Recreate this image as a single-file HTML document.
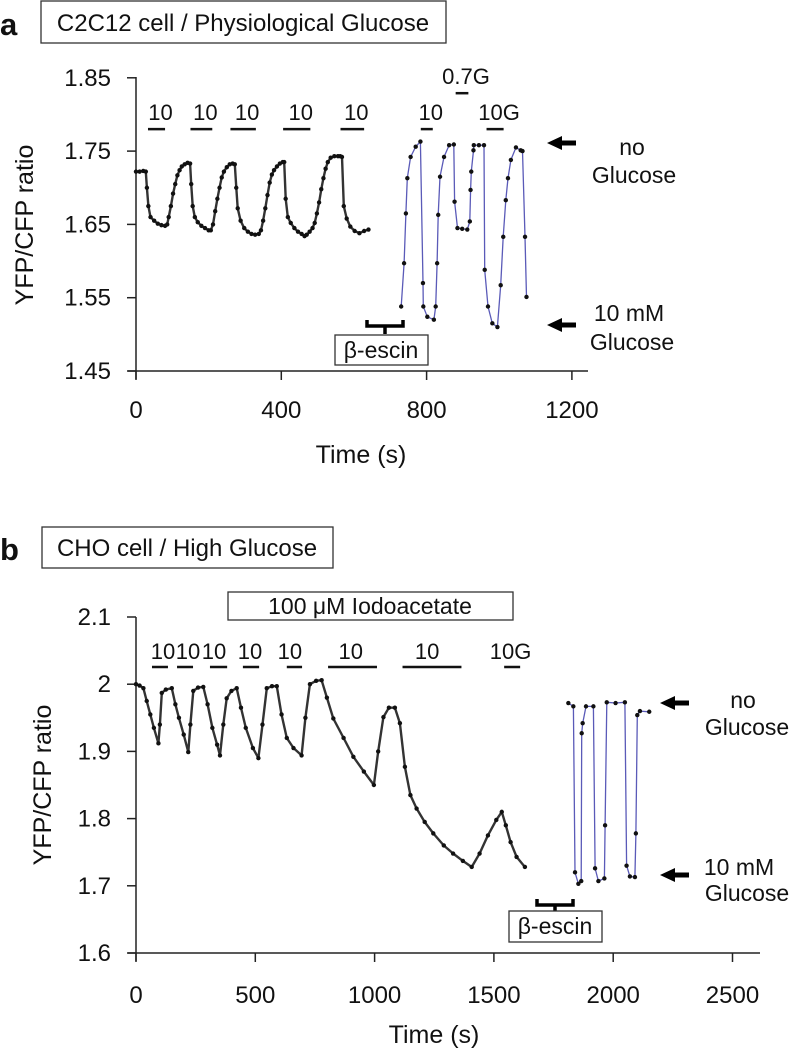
<!DOCTYPE html>
<html><head><meta charset="utf-8">
<style>
html,body{margin:0;padding:0;background:#fff;}
svg{display:block;font-family:"Liberation Sans",Arial,sans-serif;}
</style></head>
<body>
<svg id="fig" width="792" height="1050" viewBox="0 0 792 1050" xmlns="http://www.w3.org/2000/svg">
  <g id="pa"></g>
  <g id="pb"></g>
</svg>
<script>
// ---------- Panel A data ----------
const aTicksX = [0, 400, 800, 1200];
const aTicksY = [1.45, 1.55, 1.65, 1.75, 1.85];
const aTicksYLabels = ["1.45", "1.55", "1.65", "1.75", "1.85"];
const aPreT = [0,10,20,27,30,34,40,50,60,70,80,86,90,96,102,108,114,120,126,134,142,149,152,156,162,170,180,190,200,206,212,218,224,230,236,242,250,258,266,272,276,280,288,298,308,318,328,338,344,350,356,362,368,374,380,388,396,404,408,412,418,426,436,446,456,464,470,478,486,492,498,504,510,516,522,528,536,546,556,562,567,572,580,590,602,615,628,640];
const aPreV = [1.722,1.722,1.723,1.722,1.70,1.675,1.66,1.655,1.651,1.649,1.648,1.65,1.66,1.675,1.692,1.705,1.717,1.724,1.729,1.732,1.734,1.733,1.705,1.675,1.66,1.653,1.648,1.645,1.642,1.642,1.65,1.668,1.685,1.70,1.714,1.722,1.728,1.732,1.733,1.732,1.70,1.672,1.655,1.645,1.64,1.637,1.636,1.637,1.642,1.655,1.672,1.69,1.707,1.718,1.724,1.729,1.733,1.735,1.735,1.685,1.66,1.652,1.645,1.64,1.637,1.634,1.636,1.64,1.645,1.652,1.665,1.68,1.698,1.713,1.726,1.735,1.741,1.743,1.743,1.743,1.742,1.675,1.658,1.647,1.641,1.638,1.641,1.643];
const aPostT = [730,738,743,747,756,770,783,790,791,802,820,825,829,832,837,848,862,875,877,885,898,912,919,921,923,929,930,944,958,960,969,981,995,1004,1011,1018,1024,1032,1046,1059,1064,1071,1075];
const aPostV = [1.538,1.597,1.665,1.713,1.742,1.756,1.763,1.57,1.538,1.524,1.52,1.538,1.597,1.663,1.715,1.742,1.758,1.759,1.681,1.645,1.644,1.643,1.654,1.697,1.722,1.751,1.758,1.758,1.758,1.588,1.538,1.515,1.51,1.567,1.633,1.683,1.713,1.738,1.755,1.751,1.75,1.633,1.551];
const aBarLabels = ["10","10","10","10","10","10","0.7G","10G"];
const aBarStart = [33,150,260,405,563,784,880,965];
const aBarEnd = [80,210,330,480,628,817,915,1012];
const aBarLevel = [1.780,1.780,1.780,1.780,1.780,1.780,1.829,1.780];

// ---------- Panel B data ----------
const bTicksX = [0, 500, 1000, 1500, 2000, 2500];
const bTicksY = [1.6, 1.7, 1.8, 1.9, 2.0, 2.1];
const bTicksYLabels = ["1.6", "1.7", "1.8", "1.9", "2", "2.1"];
const bPreT = [0,15,31,45,60,75,94,100,108,125,150,165,180,200,219,228,240,260,282,300,320,340,352,366,380,400,422,440,460,490,513,530,548,570,590,610,632,660,694,710,729,755,778,800,827,870,911,955,997,1015,1037,1060,1085,1106,1127,1150,1176,1210,1246,1290,1329,1370,1407,1440,1475,1510,1533,1550,1570,1595,1630];
const bPreV = [2.0,1.998,1.994,1.975,1.955,1.935,1.912,1.94,1.987,1.992,1.994,1.97,1.95,1.925,1.899,1.94,1.99,1.995,1.996,1.97,1.935,1.91,1.894,1.94,1.979,1.99,1.994,1.965,1.935,1.905,1.89,1.94,1.994,1.997,1.997,1.955,1.92,1.905,1.894,1.95,2.0,2.005,2.006,1.98,1.949,1.92,1.892,1.87,1.85,1.9,1.951,1.965,1.965,1.942,1.877,1.835,1.815,1.795,1.778,1.76,1.748,1.737,1.728,1.748,1.775,1.798,1.81,1.79,1.765,1.743,1.728];
const bPostT = [1812,1833,1840,1854,1866,1868,1872,1886,1917,1924,1938,1963,1966,1973,2010,2049,2056,2070,2091,2095,2101,2112,2151];
const bPostV = [1.972,1.967,1.72,1.703,1.707,1.927,1.942,1.967,1.967,1.726,1.707,1.711,1.79,1.973,1.972,1.973,1.73,1.714,1.713,1.778,1.954,1.96,1.959];
const bBarLabels = ["10","10","10","10","10","10","10","10G"];
const bLabelT = [113,218,327,478,645,900,1220,1570];
const bBarStart = [67,172,310,448,632,805,1117,1543];
const bBarEnd = [134,239,382,516,696,1010,1364,1610];

const NS = "http://www.w3.org/2000/svg";
function mk(parent, tag, attrs, text) {
  const e = document.createElementNS(NS, tag);
  for (const k in attrs) e.setAttribute(k, attrs[k]);
  if (text !== undefined) e.textContent = text;
  parent.appendChild(e);
  return e;
}

const axA = { x0: 136, pxPerS: 145.3 / 400, y0: 371, vmin: 1.45, pxPerV: 733 };
const axB = { x0: 136, pxPerS: 119.3 / 500, y0: 953, vmin: 1.6, pxPerV: 672 };
function sx(ax, t) { return ax.x0 + t * ax.pxPerS; }
function sy(ax, v) { return ax.y0 - (v - ax.vmin) * ax.pxPerV; }

function drawAxes(g, ax, xTicks, yTicks, yLabels, xEnd, yTop, tickLabelY, titleX, titleY, ylabX, ylabY) {
  const xa = mk(g, "line", {x1: ax.x0 - 8, y1: ax.y0, x2: xEnd, y2: ax.y0, stroke: "#222", "stroke-width": 1.5});
  
  
  const ya = mk(g, "line", {x1: ax.x0, y1: yTop, x2: ax.x0, y2: ax.y0 + 8, stroke: "#222", "stroke-width": 1.5});
  
  
  xTicks.forEach(t => {
    const x = sx(ax, t);
    const tk = mk(g, "line", {x1: x, y1: ax.y0, x2: x, y2: ax.y0 + 9, stroke: "#222", "stroke-width": 1.5});
    
    
    const tl = mk(g, "text", {x: x, y: tickLabelY, "font-size": 24, "text-anchor": "middle", fill: "#111"}, String(t));
    
    
  });
  yTicks.forEach((v, i) => {
    const y = sy(ax, v);
    const tk = mk(g, "line", {x1: ax.x0 - 9, y1: y, x2: ax.x0, y2: y, stroke: "#222", "stroke-width": 1.5});
    
    
    const tl = mk(g, "text", {x: 111, y: y + 8, "font-size": 24, "text-anchor": "end", fill: "#111"}, yLabels[i]);
    
    
  });
  const xt = mk(g, "text", {x: titleX, y: titleY, "font-size": 25, "text-anchor": "middle", fill: "#111"}, "Time (s)");
  
  
  const yt = mk(g, "text", {x: ylabX, y: ylabY, "font-size": 25, "text-anchor": "middle", fill: "#111", transform: "rotate(-90 " + ylabX + " " + ylabY + ")"}, "YFP/CFP ratio");
  
  
}

function drawSeries(g, ax, ts, vs, color, width, name) {
  const pts = ts.map((t, i) => sx(ax, t).toFixed(1) + "," + sy(ax, vs[i]).toFixed(1)).join(" ");
  const pl = mk(g, "polyline", {points: pts, fill: "none", stroke: color, "stroke-width": width, "stroke-linejoin": "round"});
  
  
  ts.forEach((t, i) => {
    const c = mk(g, "circle", {cx: sx(ax, t), cy: sy(ax, vs[i]), r: 2.2, fill: "#111"});
    
    
  });
}

function arrow(g, xTip, xEnd, y) {
  const p = mk(g, "polygon", {points: `${xTip},${y} ${xTip+15},${y-7} ${xTip+15},${y-2.5} ${xEnd},${y-2.5} ${xEnd},${y+2.5} ${xTip+15},${y+2.5} ${xTip+15},${y+7}`, fill: "#000"});
  
  
}
function label(g, x, y, txt, size, name, anchor) {
  const t = mk(g, "text", {x: x, y: y, "font-size": size, "text-anchor": anchor || "middle", fill: "#111"}, txt);
  
  
  return t;
}
function boxLabel(g, x, y, w, h, txt, size, name, tx, ty) {
  const r = mk(g, "rect", {x: x, y: y, width: w, height: h, fill: "#fff", stroke: "#333", "stroke-width": 1.3});
  
  
  return label(g, tx !== undefined ? tx : x + w / 2, ty, txt, size, name, "middle");
}
function bracket(g, x1, x2, y, name) {
  const xm = (x1 + x2) / 2;
  const p = mk(g, "path", {d: `M${x1},${y-6} L${x1},${y} L${x2},${y} L${x2},${y-6} M${xm},${y} L${xm},${y+8}`, fill: "none", stroke: "#000", "stroke-width": 3.5});
  
  
}

// ---------- Panel A ----------
const ga = document.getElementById("pa");
label(ga, 0, 35, "a", 31, "panel-a-letter", "start").setAttribute("font-weight", "bold");
boxLabel(ga, 41, 1, 405, 42, "C2C12 cell / Physiological Glucose", 24, "panel-a-title", 243, 31);
drawAxes(ga, axA, aTicksX, aTicksY, aTicksYLabels, 588, 77, 418, 361, 463, 33, 225);
aBarLabels.forEach((lab, i) => {
  const x1 = sx(axA, aBarStart[i]), x2 = sx(axA, aBarEnd[i]), y = sy(axA, aBarLevel[i]);
  const b = mk(ga, "line", {x1: x1, y1: y, x2: x2, y2: y, stroke: "#111", "stroke-width": 2.5});
  
  
  label(ga, (x1 + x2) / 2 + 4, y - 9, lab, 22, "glucose-bar-label");
});
drawSeries(ga, axA, aPreT, aPreV, "#333", 2.4, "trace-a-intact");
drawSeries(ga, axA, aPostT, aPostV, "#5a5ab8", 1.3, "trace-a-permeabilized");
bracket(ga, 367, 403, 326, "beta-escin-bracket-a");
boxLabel(ga, 335, 335, 93, 30, "\u03b2-escin", 23, "beta-escin-label-a", 381, 358);
arrow(ga, 547, 576, 143);
arrow(ga, 547, 576, 325);
label(ga, 632, 155, "no", 23, "no-glucose-label-a");
label(ga, 634, 183, "Glucose", 23, "no-glucose-label-a2");
label(ga, 629, 321, "10 mM", 23, "ten-mm-label-a");
label(ga, 632, 350, "Glucose", 23, "ten-mm-label-a2");

// ---------- Panel B ----------
const gb = document.getElementById("pb");
label(gb, 0, 560, "b", 31, "panel-b-letter", "start").setAttribute("font-weight", "bold");
boxLabel(gb, 42, 527, 291, 41, "CHO cell / High Glucose", 24, "panel-b-title", 187, 556);
boxLabel(gb, 228, 592, 285, 28, "100 \u03bcM Iodoacetate", 23, "iodoacetate-label", 370, 614);
drawAxes(gb, axB, bTicksX, bTicksY, bTicksYLabels, 760, 617, 1003, 434, 1043, 51, 785);
bBarLabels.forEach((lab, i) => {
  const x1 = sx(axB, bBarStart[i]), x2 = sx(axB, bBarEnd[i]);
  const b = mk(gb, "line", {x1: x1, y1: 667, x2: x2, y2: 667, stroke: "#111", "stroke-width": 2.5});
  
  
  label(gb, sx(axB, bLabelT[i]), 659, lab, 22, "glucose-bar-label");
});
drawSeries(gb, axB, bPreT, bPreV, "#333", 2.4, "trace-b-intact");
drawSeries(gb, axB, bPostT, bPostV, "#5a5ab8", 1.3, "trace-b-permeabilized");
bracket(gb, 537, 573, 905, "beta-escin-bracket-b");
boxLabel(gb, 509, 911, 93, 31, "\u03b2-escin", 23, "beta-escin-label-b", 555, 934);
arrow(gb, 660, 689, 703);
arrow(gb, 660, 689, 875);
label(gb, 743, 708, "no", 23, "no-glucose-label-b");
label(gb, 747, 735, "Glucose", 23, "no-glucose-label-b2");
label(gb, 739, 875, "10 mM", 23, "ten-mm-label-b");
label(gb, 747, 901, "Glucose", 23, "ten-mm-label-b2");
</script>
</body></html>
